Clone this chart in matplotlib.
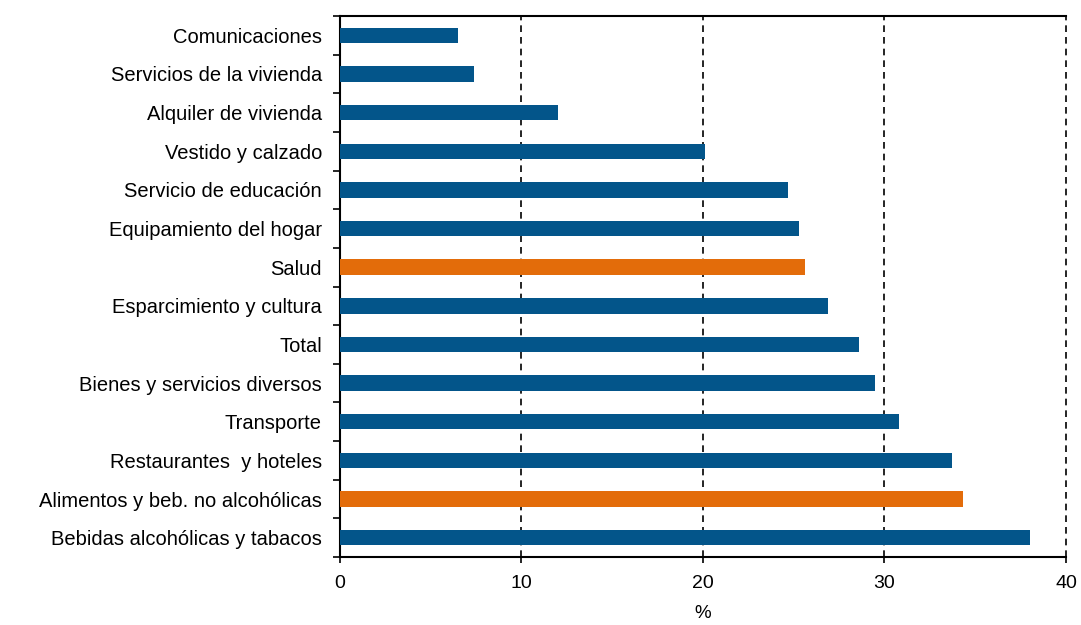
import matplotlib.pyplot as plt

plt.rcParams['font.family'] = ['Liberation Sans', 'DejaVu Sans']

# categories from top to bottom, as in the picture
categorias = [
    'Comunicaciones',
    'Servicios de la vivienda',
    'Alquiler de vivienda',
    'Vestido y calzado',
    'Servicio de educación',
    'Equipamiento del hogar',
    'Salud',
    'Esparcimiento y cultura',
    'Total',
    'Bienes y servicios diversos',
    'Transporte',
    'Restaurantes  y hoteles',
    'Alimentos y beb. no alcohólicas',
    'Bebidas alcohólicas y tabacos',
]
valores = [6.5, 7.4, 12.0, 20.1, 24.7, 25.3, 25.6, 26.9, 28.6, 29.5, 30.8, 33.7, 34.3, 38.0]
destacados = ['Salud', 'Alimentos y beb. no alcohólicas']

AZUL = '#03558A'
NARANJA = '#E36C0A'

colores = [NARANJA if c in destacados else AZUL for c in categorias]
pos = list(range(len(categorias)))[::-1]

fig = plt.figure(figsize=(10.81, 6.25), dpi=100)
ax = fig.add_axes([0.3145, 0.1088, 0.6716, 0.8656])

ax.barh(pos, valores, height=0.40, color=colores, zorder=3)

ax.set_xlim(0, 40)
ax.set_ylim(-0.5, len(categorias) - 0.5)
ax.set_xticks([0, 10, 20, 30, 40])
ax.set_yticks(pos)
ax.set_yticklabels(categorias, fontsize=14.5)
ax.set_yticks([p + 0.5 for p in range(-1, len(categorias))], minor=True)
ax.tick_params(axis='y', which='major', length=0, pad=13)
ax.tick_params(axis='y', which='minor', length=5, width=1.2, direction='out')
ax.tick_params(axis='x', length=4, width=1.2, direction='out', pad=9, labelsize=14)

ax.xaxis.grid(True, color='black', linestyle=(0, (4, 3)), linewidth=1.2, zorder=1)
ax.set_axisbelow(True)
for linea in ax.xaxis.get_gridlines():
    linea.set_clip_on(False)

for lado in ['left', 'bottom', 'top']:
    ax.spines[lado].set_linewidth(1.5)
    ax.spines[lado].set_color('black')
ax.spines['right'].set_visible(False)

ax.set_xlabel('%', fontsize=13.5, labelpad=9)

fig.savefig('out.png', dpi=100)
